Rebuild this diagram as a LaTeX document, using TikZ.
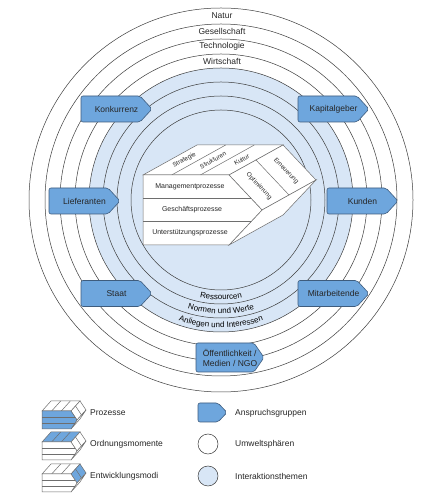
\documentclass[tikz,border=0pt]{standalone}
\usepackage{fontspec}
\setmainfont{Liberation Sans}
\usetikzlibrary{calc,decorations.text}
\definecolor{claimblue}{RGB}{110,166,221}
\definecolor{claimborder}{RGB}{62,92,125}
\definecolor{lightblue}{RGB}{216,230,246}
\definecolor{ringgray}{RGB}{60,60,60}
\definecolor{cubegray}{RGB}{110,110,110}
\newcommand\procblock[7]{%
 \coordinate (pA) at (#1,#2);
 \coordinate (pB) at (#1+#3,#2);
 \coordinate (pC) at (#1+#3,#2-#4);
 \coordinate (pD) at (#1,#2-#4);
 \coordinate (pT) at (#1+#3+#7,#2-#4/2);
 \coordinate (pAb) at (#1+#5,#2+#6);
 \coordinate (pBb) at (#1+#3+#5,#2+#6);
 \coordinate (pCb) at (#1+#3+#5,#2-#4+#6);
 \coordinate (pTb) at (#1+#3+#7+#5,#2-#4/2+#6);
 \filldraw[cubeline, cubetop] (pA)--(pB)--(pBb)--(pAb)--cycle;
 \draw[cubeline] ($(pA)!1/3!(pB)$) -- ($(pAb)!1/3!(pBb)$) ($(pA)!2/3!(pB)$) -- ($(pAb)!2/3!(pBb)$);
 \filldraw[cubeline, cubeside] (pB)--(pT)--(pTb)--(pBb)--cycle;
 \draw[cubeline] ($(pB)!.5!(pBb)$) -- ($(pT)!.5!(pTb)$);
 \filldraw[cubeline, fill=white] (pT)--(pC)--(pCb)--(pTb)--cycle;
 \filldraw[cubeline, cuberow] (pA)--(pB)--(pT)--(pC)--(pD)--cycle;
 \draw[cubeline] (#1,#2-#4/3) -- ++(#3+#7*2/3,0) (#1,#2-#4*2/3) -- ++(#3+#7*2/3,0);
}
\newcommand\claim[7]{%
 \draw[claim] (#2,#3-#6) -- (#2+#4,#3-#6) -- (#2+#4+#5,#3) -- (#2+#4,#3+#6) -- (#2,#3+#6) -- cycle;
 \node[claimtext] (#1) at (#2+#4/2+#5/2,#3) {#7};
}
\begin{document}
\begin{tikzpicture}[x=1pt,y=1pt,
  ring/.style={draw=ringgray, line width=0.5pt},
  cubeline/.style={draw=cubegray, line width=0.5pt},
  cubetop/.style={fill=white}, cubeside/.style={fill=white}, cuberow/.style={fill=white},
  claim/.style={draw=claimborder, fill=claimblue, line width=0.6pt, rounded corners=2pt},
  claimtext/.style={font=\fontsize{8.5}{10}\selectfont, text=black!85, align=left, inner sep=0pt},
  ringlabel/.style={font=\fontsize{8.5}{10}\selectfont, text=black!85, inner sep=0pt},
  frontlabel/.style={font=\fontsize{7}{8}\selectfont, text=black!85, inner sep=0pt},
  smalllabel/.style={font=\fontsize{6.3}{7}\selectfont, text=black!85, inner sep=0pt},
  legendtext/.style={font=\fontsize{8.5}{10}\selectfont, text=black!85, anchor=west, inner sep=0pt}]
\useasboundingbox (0,0) rectangle (424,500);
\fill[white] (0,0) rectangle (424,500);
\coordinate (O) at (221,300);
% rings
\foreach \r in {192,176,161,146} \draw[ring] (O) circle[radius=\r];
\draw[ring, fill=lightblue] (O) circle[radius=132];
\foreach \r in {118,104,90} \draw[ring] (O) circle[radius=\r];
% ring labels
\node[ringlabel] (natur) at (222,484.5) {Natur};
\node[ringlabel] (gesell) at (222,469) {Gesellschaft};
\node[ringlabel] (tech) at (222,454) {Technologie};
\node[ringlabel] (wirt) at (222,439) {Wirtschaft};
\path[decorate, decoration={text along path, text align=center, text={|\fontsize{8}{9}\selectfont|Ressourcen}}]
  ($(O)+(200:99.8)$) arc[start angle=200, end angle=340, radius=99.8];
\path[decorate, decoration={text along path, text align=center, text={|\fontsize{8}{9}\selectfont|Normen und Werte}}]
  ($(O)+(200:113.8)$) arc[start angle=200, end angle=340, radius=113.8];
\path[decorate, decoration={text along path, text align=center, text={|\fontsize{8}{9}\selectfont|Anliegen und Interessen}}]
  ($(O)+(200:127.8)$) arc[start angle=200, end angle=340, radius=127.8];
% central block
\procblock{143}{325}{86}{70}{54}{30}{33}
\node[frontlabel] (mgmt) at (190,313.3) {Managementprozesse};
\node[frontlabel] (gesch) at (192,290) {Geschäftsprozesse};
\node[frontlabel] (unter) at (190,266.7) {Unterstützungsprozesse};
\node[smalllabel, rotate=29] (strat) at (184.3,340) {Strategie};
\node[smalllabel, rotate=29] (struk) at (213,340) {Strukturen};
\node[smalllabel, rotate=29] (kult) at (241.7,340) {Kultur};
\node[smalllabel, rotate=-46.7] (opt) at (259,314) {Optimierung};
\node[smalllabel, rotate=-46.7] (ern) at (286,329) {Erneuerung};
% claim groups
\claim{konkurrenz}{81}{391}{59}{12}{13}{Konkurrenz}
\claim{kapitalgeber}{298}{391}{59}{12}{13}{Kapitalgeber}
\claim{lieferanten}{49}{299}{59}{12}{13}{Lieferanten}
\claim{kunden}{327}{299}{59}{12}{13}{Kunden}
\claim{staat}{81}{206.5}{59}{12}{13}{Staat}
\claim{mitarbeitende}{298}{206.5}{59}{12}{13}{Mitarbeitende}
\claim{oeffentlichkeit}{196}{142.5}{58}{10}{14.5}{Öffentlichkeit /\\Medien / NGO}
% legend
\begin{scope}[cuberow/.style={fill=claimblue}]
\procblock{42}{89}{29}{18}{9}{10}{6}
\end{scope}
\node[legendtext] (lprozesse) at (90,87) {Prozesse};
\begin{scope}[cubetop/.style={fill=claimblue}]
\procblock{42}{58}{29}{18}{9}{10}{6}
\end{scope}
\node[legendtext] (lordnung) at (90,56) {Ordnungsmomente};
\begin{scope}[cubeside/.style={fill=claimblue}]
\procblock{42}{26}{29}{18}{9}{10}{6}
\end{scope}
\node[legendtext] (lentw) at (90,24) {Entwicklungsmodi};
\claim{legclaim}{198}{87.5}{20}{9}{9.5}{}
\node[legendtext] (lanspr) at (235,87) {Anspruchsgruppen};
\draw[ring, fill=white] (208,56) circle[radius=10];
\node[legendtext] (lumwelt) at (235,56) {Umweltsphären};
\draw[ring, fill=lightblue] (208,24) circle[radius=10];
\node[legendtext] (linter) at (235,24) {Interaktionsthemen};
\end{tikzpicture}
\end{document}
